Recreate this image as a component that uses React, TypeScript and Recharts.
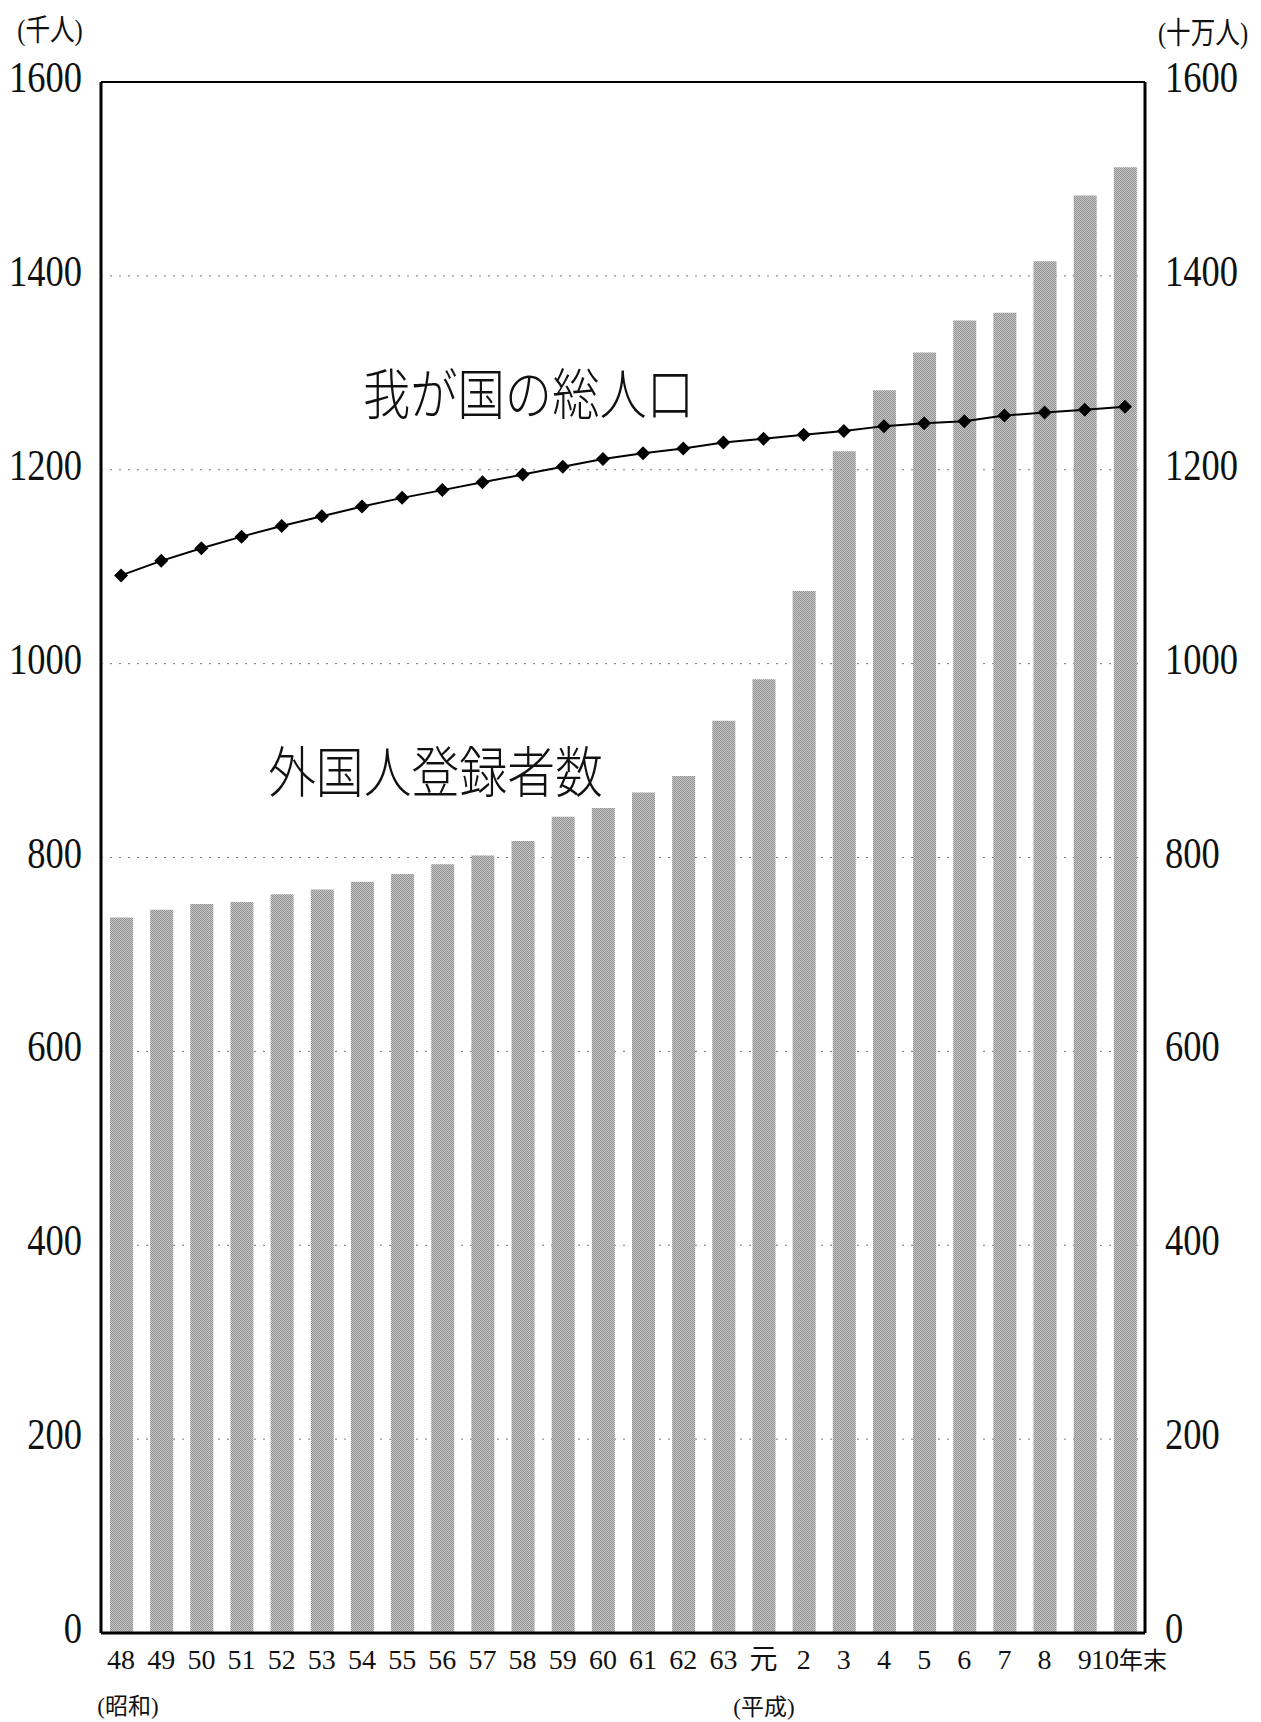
import React from "react";
import {
  ComposedChart,
  Bar,
  Line,
  XAxis,
  YAxis,
  CartesianGrid,
  ReferenceLine,
} from "recharts";

// 昭和48年 ~ 平成10年末
const years = [
  "48", "49", "50", "51", "52", "53", "54", "55", "56", "57", "58", "59", "60",
  "61", "62", "63", "元", "2", "3", "4", "5", "6", "7", "8", "9", "10年末",
];
// 外国人登録者数 (千人)
const foreigners = [
  738, 746, 752, 754, 762, 767, 775, 783, 793, 802, 817, 842, 851,
  867, 884, 941, 984, 1075, 1219, 1282, 1321, 1354, 1362, 1415, 1483, 1512,
];
// 我が国の総人口 (十万人)
const population = [
  1091, 1106, 1119, 1131, 1142, 1152, 1162, 1171, 1179, 1187, 1195, 1203, 1211,
  1217, 1222, 1228, 1232, 1236, 1240, 1245, 1248, 1250, 1256, 1259, 1262, 1265,
];
const yTicks = [0, 200, 400, 600, 800, 1000, 1200, 1400, 1600];

const data = years.map((y, i) => ({
  label: y,
  foreigners: foreigners[i],
  population: population[i],
}));

const SERIF = "'Liberation Serif', 'Noto Sans CJK JP', serif";

const LeftTick = (props: any) => {
  const { x, y, payload } = props;
  return (
    <text
      transform={`translate(${x - 19},${y + 10}) scale(0.83,1)`}
      textAnchor="end"
      fontFamily={SERIF}
      fontSize={44}
      fill="#111"
    >
      {payload.value}
    </text>
  );
};

const RightTick = (props: any) => {
  const { x, y, payload } = props;
  return (
    <text
      transform={`translate(${x + 20},${y + 10}) scale(0.83,1)`}
      textAnchor="start"
      fontFamily={SERIF}
      fontSize={44}
      fill="#111"
    >
      {payload.value}
    </text>
  );
};

const BottomTick = (props: any) => {
  const { x, y, payload } = props;
  const v = String(payload.value);
  // last label "10年末" is left-aligned right after the "9"
  if (v.endsWith("年末")) {
    return (
      <text x={x - 34} y={y + 36} textAnchor="start" fontFamily={SERIF} fontSize={28} fill="#111">
        {v.replace("年末", "")}
        <tspan fontSize={24}>年末</tspan>
      </text>
    );
  }
  return (
    <text x={x} y={y + 36} textAnchor="middle" fontFamily={SERIF} fontSize={28} fill="#111">
      {v}
    </text>
  );
};

const Diamond = (props: any) => {
  const { cx, cy, index } = props;
  if (cx == null || cy == null) return null;
  const r = 7;
  return (
    <polygon
      key={`d-${index}`}
      points={`${cx},${cy - r} ${cx + r},${cy} ${cx},${cy + r} ${cx - r},${cy}`}
      fill="#000"
    />
  );
};

export default function App() {
  return (
    <div style={{ position: "absolute", left: 0, top: 0, width: 1261, height: 1722, background: "#fff" }}>
      <svg width={0} height={0} style={{ position: "absolute" }}>
        <defs>
          <pattern id="halftone" width={2} height={2} patternUnits="userSpaceOnUse">
            <rect width={2} height={2} fill="#c8c8c8" />
            <rect x={0} y={0} width={1} height={1} fill="#909090" />
            <rect x={1} y={1} width={1} height={1} fill="#909090" />
          </pattern>
        </defs>
      </svg>

      <ComposedChart
        width={1261}
        height={1722}
        data={data}
        margin={{ top: 82, right: 0, bottom: 0, left: 0 }}
        barCategoryGap={0}
      >
        <CartesianGrid
          yAxisId="left"
          vertical={false}
          stroke="#777"
          strokeDasharray="2 7"
        />
        <XAxis
          dataKey="label"
          interval={0}
          height={89}
          tickLine={false}
          tickSize={0}
          tickMargin={0}
          axisLine={{ stroke: "#000", strokeWidth: 3 }}
          tick={<BottomTick />}
        />
        <YAxis
          yAxisId="left"
          orientation="left"
          width={101}
          domain={[0, 1600]}
          ticks={yTicks}
          interval={0}
          tickLine={false}
          tickSize={0}
          tickMargin={0}
          axisLine={{ stroke: "#000", strokeWidth: 3 }}
          tick={<LeftTick />}
        />
        <YAxis
          yAxisId="right"
          orientation="right"
          width={116}
          domain={[0, 1600]}
          ticks={yTicks}
          interval={0}
          tickLine={false}
          tickSize={0}
          tickMargin={0}
          axisLine={{ stroke: "#000", strokeWidth: 3 }}
          tick={<RightTick />}
        />
        <ReferenceLine yAxisId="left" y={1600} stroke="#000" strokeWidth={2} />
        <Bar
          yAxisId="left"
          dataKey="foreigners"
          barSize={23}
          fill="url(#halftone)"
          isAnimationActive={false}
        />
        <Line
          yAxisId="right"
          dataKey="population"
          type="linear"
          stroke="#000"
          strokeWidth={2}
          dot={<Diamond />}
          activeDot={false}
          isAnimationActive={false}
        />
      </ComposedChart>

      <svg
        width={1261}
        height={1722}
        style={{ position: "absolute", left: 0, top: 0, pointerEvents: "none" }}
      >
        <text transform="translate(50,40) scale(0.82,1)" textAnchor="middle" fontFamily={SERIF} fontSize={30} fill="#111">
          (千人)
        </text>
        <text transform="translate(1203,43) scale(0.82,1)" textAnchor="middle" fontFamily={SERIF} fontSize={30} fill="#111">
          (十万人)
        </text>
        <text x={128} y={1714} textAnchor="middle" fontFamily={SERIF} fontSize={23} fill="#111">
          (昭和)
        </text>
        <text x={764} y={1715} textAnchor="middle" fontFamily={SERIF} fontSize={23} fill="#111">
          (平成)
        </text>
        <text
          transform="translate(363,414) scale(0.86,1)"
          textAnchor="start"
          fontFamily="'Noto Sans CJK JP', sans-serif"
          fontSize={55}
          fontWeight={300}
          fill="#111"
        >
          我が国の総人口
        </text>
        <text
          transform="translate(268,792) scale(0.87,1)"
          textAnchor="start"
          fontFamily="'Noto Sans CJK JP', sans-serif"
          fontSize={55}
          fontWeight={300}
          fill="#111"
        >
          外国人登録者数
        </text>
      </svg>
    </div>
  );
}
